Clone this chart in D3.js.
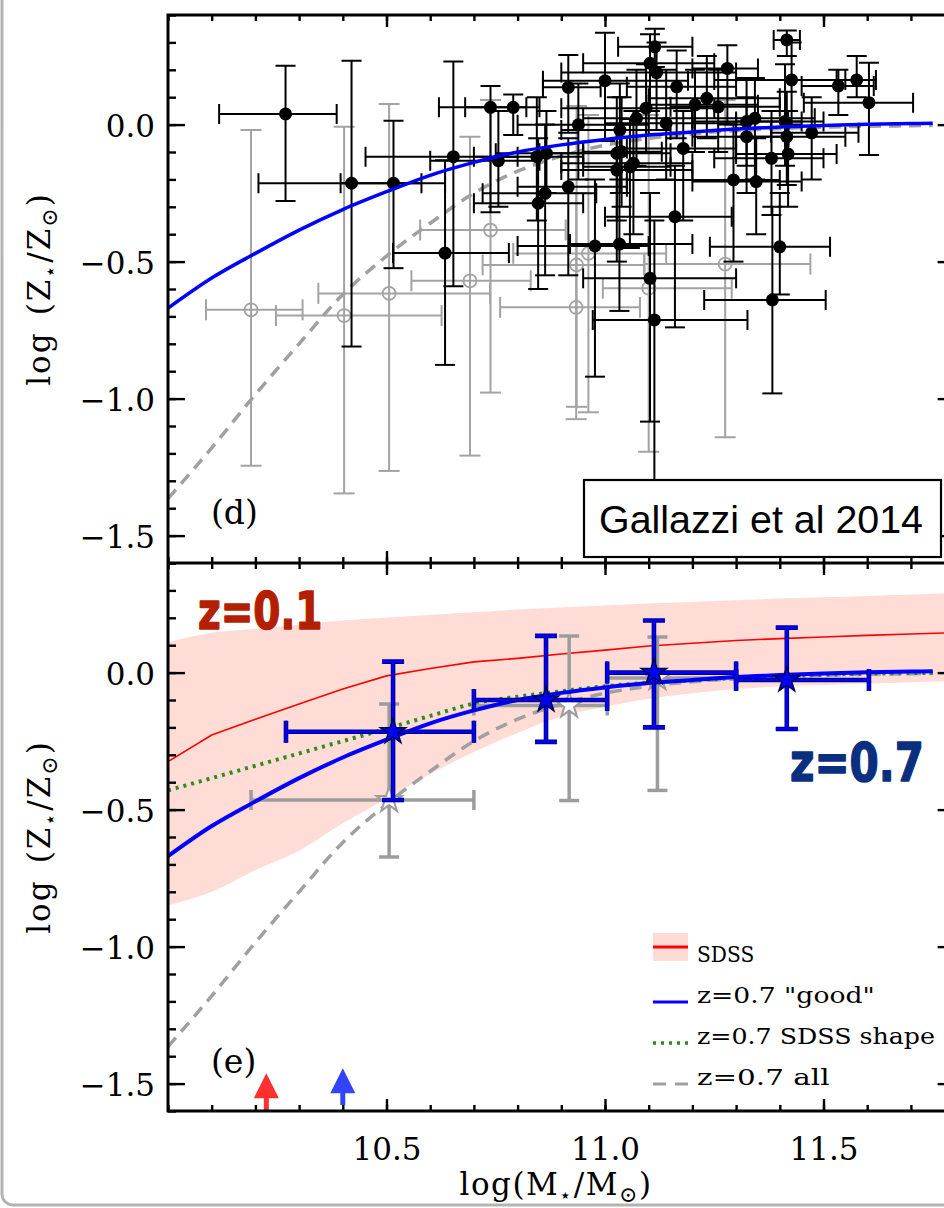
<!DOCTYPE html>
<html>
<head>
<meta charset="utf-8">
<script src="https://cdn.jsdelivr.net/npm/d3@7"></script>
<style>
  html, body { margin: 0; padding: 0; background: #fff; overflow: hidden; }
  svg { display: block; }
</style>
</head>
<body>
<svg id="fig" width="944" height="1208"></svg>
<script>
// ---------------------------------------------------------------------------
// Data: stellar mass–metallicity relation
// ---------------------------------------------------------------------------
const xTicks = [10.5, 11.0, 11.5];
const yTicks = [0.0, -0.5, -1.0, -1.5];

// SDSS (z=0.1) median relation and 16th/84th percentile envelope
const sdssMass   = [10.0, 10.1, 10.2, 10.3, 10.4, 10.5, 10.6, 10.7, 10.8, 10.9, 11.0, 11.1, 11.2, 11.3, 11.4, 11.5, 11.6, 11.7, 11.8];
const sdssMedian = [-0.325, -0.228, -0.17, -0.115, -0.06, -0.012, 0.015, 0.039, 0.052, 0.068, 0.082, 0.097, 0.107, 0.117, 0.124, 0.130, 0.136, 0.141, 0.146];
const sdssHigh   = [0.11, 0.145, 0.16, 0.175, 0.19, 0.20, 0.21, 0.22, 0.23, 0.238, 0.245, 0.252, 0.258, 0.264, 0.27, 0.275, 0.28, 0.285, 0.29];
const sdssLow    = [-0.85, -0.80, -0.72, -0.65, -0.55, -0.46, -0.37, -0.29, -0.22, -0.16, -0.125, -0.095, -0.075, -0.06, -0.05, -0.045, -0.04, -0.035, -0.03];

// z=0.7 fitted relations
const fitMass      = [10.0, 10.1, 10.2, 10.3, 10.4, 10.5, 10.6, 10.7, 10.8, 10.9, 11.0, 11.1, 11.2, 11.3, 11.4, 11.5, 11.6, 11.7, 11.75];
const fitGood      = [-0.67, -0.56, -0.47, -0.385, -0.31, -0.245, -0.185, -0.138, -0.10, -0.074, -0.054, -0.038, -0.027, -0.016, -0.009, -0.003, 0.001, 0.004, 0.005];
const fitAll       = [-1.365, -1.18, -0.985, -0.80, -0.62, -0.48, -0.36, -0.25, -0.17, -0.115, -0.075, -0.05, -0.033, -0.022, -0.014, -0.009, -0.006, -0.004, -0.003];
const fitSdssShape = [-0.43, -0.385, -0.34, -0.295, -0.25, -0.205, -0.158, -0.113, -0.088, -0.068, -0.05, -0.037, -0.028, -0.02, -0.013, -0.008, -0.004, -0.002, -0.001];

// Individual galaxies: [logM, logZ, logM_lo, logM_hi, logZ_lo, logZ_hi]
const galaxiesGood = [
  [10.269, 0.039, 10.117, 10.386, -0.279, 0.215],
  [10.420, -0.214, 10.207, 10.580, -0.810, 0.233],
  [10.516, -0.214, 10.395, 10.634, -0.524, 0.014],
  [10.653, -0.117, 10.452, 10.800, -0.590, 0.230],
  [10.634, -0.469, 10.515, 10.780, -0.877, -0.130],
  [10.738, 0.063, 10.620, 10.820, -0.320, 0.141],
  [10.790, 0.063, 10.680, 10.850, -0.038, 0.110],
  [10.916, 0.136, 10.858, 10.990, -0.030, 0.254],
  [11.000, 0.160, 10.858, 11.190, -0.060, 0.335],
  [11.114, 0.284, 11.030, 11.200, 0.210, 0.350],
  [11.103, 0.224, 10.950, 11.250, 0.050, 0.330],
  [11.118, 0.190, 10.900, 11.300, -0.020, 0.300],
  [11.164, 0.138, 11.050, 11.300, -0.050, 0.270],
  [11.280, 0.205, 11.200, 11.350, 0.000, 0.290],
  [11.416, 0.309, 11.386, 11.446, 0.250, 0.343],
  [11.427, 0.163, 11.250, 11.550, 0.000, 0.300],
  [11.534, 0.141, 11.450, 11.615, 0.035, 0.200],
  [11.576, 0.163, 11.530, 11.620, 0.100, 0.250],
  [11.604, 0.080, 11.455, 11.705, -0.111, 0.226],
  [10.939, -0.001, 10.800, 11.100, -0.200, 0.150],
  [11.072, 0.023, 10.950, 11.200, -0.150, 0.200],
  [11.094, 0.060, 10.900, 11.250, -0.100, 0.220],
  [11.140, 0.005, 11.000, 11.300, -0.200, 0.200],
  [11.206, 0.072, 11.100, 11.350, -0.100, 0.200],
  [11.233, 0.096, 11.100, 11.400, -0.050, 0.250],
  [11.259, 0.065, 11.150, 11.400, -0.100, 0.200],
  [11.324, 0.011, 11.200, 11.450, -0.150, 0.170],
  [11.343, 0.023, 11.200, 11.480, -0.200, 0.170],
  [11.412, 0.011, 11.300, 11.500, -0.150, 0.220],
  [11.416, -0.044, 11.300, 11.550, -0.220, 0.120],
  [11.473, -0.030, 11.380, 11.580, -0.200, 0.100],
  [11.324, -0.044, 11.200, 11.420, -0.250, 0.100],
  [11.419, -0.107, 11.300, 11.530, -0.300, 0.050],
  [11.381, -0.123, 11.250, 11.500, -0.330, 0.050],
  [11.294, -0.202, 11.050, 11.400, -0.500, 0.000],
  [11.346, -0.208, 11.200, 11.450, -0.400, -0.050],
  [11.179, -0.087, 11.050, 11.300, -0.350, 0.050],
  [11.160, -0.336, 11.000, 11.290, -0.740, -0.150],
  [11.400, -0.446, 11.240, 11.515, -0.620, -0.250],
  [11.383, -0.640, 11.227, 11.505, -0.981, -0.300],
  [11.034, -0.020, 10.900, 11.150, -0.250, 0.150],
  [11.027, -0.105, 10.850, 11.150, -0.350, 0.100],
  [11.038, -0.099, 10.950, 11.130, -0.300, 0.100],
  [11.065, -0.141, 10.900, 11.200, -0.400, 0.050],
  [11.027, -0.166, 10.900, 11.200, -0.500, 0.000],
  [11.057, -0.154, 10.950, 11.150, -0.450, 0.020],
  [10.916, -0.227, 10.800, 11.050, -0.550, -0.050],
  [10.863, -0.251, 10.720, 10.980, -0.550, 0.000],
  [10.847, -0.287, 10.700, 10.950, -0.600, -0.050],
  [10.977, -0.443, 10.800, 11.100, -0.920, -0.200],
  [11.033, -0.436, 10.920, 11.200, -0.680, -0.200],
  [11.103, -0.561, 10.950, 11.300, -1.084, -0.250],
  [10.756, -0.132, 10.600, 10.850, -0.300, 0.050],
  [10.844, -0.117, 10.700, 10.950, -0.350, 0.100],
  [10.866, -0.105, 10.750, 10.950, -0.250, 0.050],
  [11.113, -0.713, 10.972, 11.326, -1.297, -0.350]
];

const galaxiesPoor = [
  [10.190, -0.676, 10.087, 10.308, -1.245, -0.020],
  [10.403, -0.697, 10.247, 10.626, -1.346, -0.008],
  [10.506, -0.616, 10.344, 10.737, -1.264, 0.075],
  [10.691, -0.570, 10.557, 10.830, -1.208, -0.044],
  [10.738, -0.385, 10.577, 10.910, -0.978, 0.090],
  [10.935, -0.512, 10.720, 11.090, -1.030, 0.068],
  [10.962, -0.470, 10.790, 11.140, -1.050, 0.035],
  [11.100, -0.597, 10.995, 11.290, -1.194, 0.035],
  [11.275, -0.509, 11.090, 11.470, -1.141, 0.090],
  [10.934, -0.667, 10.760, 11.080, -1.075, -0.250]
];

// Mass-binned z=0.7 stacks: [logM, logZ, logM_lo, logM_hi, logZ_lo, logZ_hi]
const binsGood = [
  [10.515, -0.216, 10.27, 10.70, -0.465, 0.04],
  [10.865, -0.100, 10.70, 11.005, -0.253, 0.134],
  [11.112, 0.000, 11.005, 11.30, -0.200, 0.190],
  [11.416, -0.027, 11.30, 11.604, -0.206, 0.164]
];
const binsAll = [
  [10.506, -0.465, 10.19, 10.70, -0.673, -0.115],
  [10.918, -0.120, 10.70, 11.005, -0.467, 0.134],
  [11.120, -0.020, 11.005, 11.30, -0.430, 0.130]
];

// Mass completeness limits and the logZ level of each arrow tip
const massLimits = [10.225, 10.40];
const arrowTips = [-1.462, -1.444];

const legendLabels = ['SDSS', 'z=0.7 "good"', 'z=0.7 SDSS shape', 'z=0.7 all'];

// ---------------------------------------------------------------------------
// Layout
// ---------------------------------------------------------------------------
const svg = d3.select('#fig');
const X0 = 168, X1 = 954.6;
const panelTop = [15, 563];
const panelH = 548;

const x = d3.scaleLinear().domain([10.0, 11.8]).range([X0, X1]);
const yTop = d3.scaleLinear().domain([-1.6, 0.4]).range([panelTop[0] + panelH, panelTop[0]]);
const yBot = d3.scaleLinear().domain([-1.6, 0.4]).range([panelTop[1] + panelH, panelTop[1]]);

const serif = '"DejaVu Serif", "Liberation Serif", serif';

// outer rounded border
svg.append('rect')
  .attr('x', 2).attr('y', -30).attr('width', 1000).attr('height', 1235)
  .attr('rx', 11).attr('fill', 'none').attr('stroke', '#b3b3b3').attr('stroke-width', 3);

const defs = svg.append('defs');
[['clipTop', panelTop[0]], ['clipBot', panelTop[1]]].forEach(([id, t]) => {
  defs.append('clipPath').attr('id', id)
    .append('rect').attr('x', X0).attr('y', t).attr('width', X1 - X0).attr('height', panelH);
});

const lineOf = (xs, ys, y, curve) => d3.line()
  .x((d, i) => x(xs[i])).y((d, i) => y(ys[i])).curve(curve || d3.curveMonotoneX)(xs);

function errorBars(g, rows, y, stroke, width, cap) {
  const eg = g.append('g').attr('stroke', stroke).attr('stroke-width', width).attr('fill', 'none');
  rows.forEach(r => {
    const [m, z, mlo, mhi, zlo, zhi] = r;
    const cx = x(m), cy = y(z);
    eg.append('line').attr('x1', cx).attr('x2', cx).attr('y1', y(zlo)).attr('y2', y(zhi));
    eg.append('line').attr('x1', x(mlo)).attr('x2', x(mhi)).attr('y1', cy).attr('y2', cy);
    eg.append('line').attr('x1', cx - cap).attr('x2', cx + cap).attr('y1', y(zlo)).attr('y2', y(zlo));
    eg.append('line').attr('x1', cx - cap).attr('x2', cx + cap).attr('y1', y(zhi)).attr('y2', y(zhi));
    eg.append('line').attr('x1', x(mlo)).attr('x2', x(mlo)).attr('y1', cy - cap).attr('y2', cy + cap);
    eg.append('line').attr('x1', x(mhi)).attr('x2', x(mhi)).attr('y1', cy - cap).attr('y2', cy + cap);
  });
}

// ---------------------------------------------------------------------------
// Panel (d): individual galaxies
// ---------------------------------------------------------------------------
const gTop = svg.append('g').attr('clip-path', 'url(#clipTop)');

errorBars(gTop, galaxiesPoor, yTop, '#a3a3a3', 2, 10.5);
gTop.append('g').selectAll('circle').data(galaxiesPoor).join('circle')
  .attr('cx', d => x(d[0])).attr('cy', d => yTop(d[1])).attr('r', 6.5)
  .attr('fill', 'none').attr('stroke', '#a3a3a3').attr('stroke-width', 1.8);

gTop.append('path').attr('d', lineOf(fitMass, fitAll, yTop))
  .attr('fill', 'none').attr('stroke', '#a0a0a0').attr('stroke-width', 3.5)
  .attr('stroke-dasharray', '12,8');

errorBars(gTop, galaxiesGood, yTop, '#000', 2, 10);
gTop.append('g').selectAll('circle').data(galaxiesGood).join('circle')
  .attr('cx', d => x(d[0])).attr('cy', d => yTop(d[1])).attr('r', 6.5).attr('fill', '#000');

gTop.append('path').attr('d', lineOf(fitMass, fitGood, yTop))
  .attr('fill', 'none').attr('stroke', '#0000ff').attr('stroke-width', 3.5);

// ---------------------------------------------------------------------------
// Panel (e): binned relations
// ---------------------------------------------------------------------------
const gBot = svg.append('g').attr('clip-path', 'url(#clipBot)');

gBot.append('path')
  .attr('d', d3.area()
    .x((d, i) => x(sdssMass[i]))
    .y0((d, i) => yBot(sdssLow[i]))
    .y1((d, i) => yBot(sdssHigh[i]))
    .curve(d3.curveMonotoneX)(sdssMass))
  .attr('fill', '#ffdcd5');

gBot.append('path').attr('d', lineOf(sdssMass, sdssMedian, yBot, d3.curveLinear))
  .attr('fill', 'none').attr('stroke', '#ff0000').attr('stroke-width', 1.6);

gBot.append('path').attr('d', lineOf(fitMass, fitAll, yBot))
  .attr('fill', 'none').attr('stroke', '#a0a0a0').attr('stroke-width', 3.5)
  .attr('stroke-dasharray', '12,8');

gBot.append('path').attr('d', lineOf(fitMass, fitSdssShape, yBot))
  .attr('fill', 'none').attr('stroke', '#2e8b1e').attr('stroke-width', 4)
  .attr('stroke-dasharray', '3,5');

const star = d3.symbol().type(d3.symbolStar).size(200);

errorBars(gBot, binsAll, yBot, '#9c9c9c', 3.5, 10);
gBot.append('g').selectAll('path').data(binsAll).join('path')
  .attr('d', star).attr('transform', d => `translate(${x(d[0])},${yBot(d[1])})`)
  .attr('fill', '#fff').attr('stroke', '#9c9c9c').attr('stroke-width', 2);

gBot.append('path').attr('d', lineOf(fitMass, fitGood, yBot))
  .attr('fill', 'none').attr('stroke', '#0000ff').attr('stroke-width', 4);

errorBars(gBot, binsGood, yBot, '#00007a', 4.6, 11);
errorBars(gBot, binsGood, yBot, '#0000ff', 2.6, 11);
gBot.append('g').selectAll('path').data(binsGood).join('path')
  .attr('d', star).attr('transform', d => `translate(${x(d[0])},${yBot(d[1])})`)
  .attr('fill', '#0000ff').attr('stroke', '#000050').attr('stroke-width', 1.5);

// mass completeness arrows
const arrowColors = ['#ff3030', '#3344ff'];
massLimits.forEach((m, i) => {
  const cx = x(m);
  const tip = yBot(arrowTips[i]);
  const base = tip + 25;
  const foot = i === 0 ? yBot(-1.6) - 1 : yBot(-1.6) - 6;
  svg.append('path')
    .attr('d', `M${cx - 12.5},${base} L${cx},${tip} L${cx + 12.5},${base} L${cx + 2.5},${base} L${cx + 2.5},${foot} L${cx - 2.5},${foot} L${cx - 2.5},${base} Z`)
    .attr('fill', arrowColors[i]);
});

// ---------------------------------------------------------------------------
// Axes
// ---------------------------------------------------------------------------
const minorX = d3.range(100, 119).map(d => d / 10);
const minorY = d3.range(-16, 5).map(d => d / 10);

function styleAxis(sel) {
  sel.select('.domain').remove();
  sel.selectAll('line').attr('stroke', '#000').attr('stroke-width', 2.4);
  sel.attr('font-family', serif).attr('font-size', 31);
  sel.selectAll('text').attr('fill', '#000');
}

[[yTop, 0], [yBot, 1]].forEach(([y, k]) => {
  const top = panelTop[k], bottom = panelTop[k] + panelH;
  // left
  svg.append('g').attr('transform', `translate(${X0},0)`)
    .call(d3.axisLeft(y).tickValues(minorY).tickSize(-8).tickFormat(''))
    .call(styleAxis);
  svg.append('g').attr('transform', `translate(${X0},0)`)
    .call(d3.axisLeft(y).tickValues(yTicks).tickSize(-17).tickPadding(13).tickFormat(d3.format('.1f')))
    .call(styleAxis)
    .call(g => g.selectAll('text').attr('dy', '0.39em'));
  // right
  svg.append('g').attr('transform', `translate(${X1},0)`)
    .call(d3.axisRight(y).tickValues(minorY).tickSize(-8).tickFormat(''))
    .call(styleAxis);
  svg.append('g').attr('transform', `translate(${X1},0)`)
    .call(d3.axisRight(y).tickValues(yTicks).tickSize(-17).tickFormat(''))
    .call(styleAxis);
  // top
  svg.append('g').attr('transform', `translate(0,${top})`)
    .call(d3.axisTop(x).tickValues(minorX).tickSize(-6).tickFormat(''))
    .call(styleAxis);
  svg.append('g').attr('transform', `translate(0,${top})`)
    .call(d3.axisTop(x).tickValues(xTicks).tickSize(-12).tickFormat(''))
    .call(styleAxis);
  // bottom
  svg.append('g').attr('transform', `translate(0,${bottom})`)
    .call(d3.axisBottom(x).tickValues(minorX).tickSize(-6).tickFormat(''))
    .call(styleAxis);
  svg.append('g').attr('transform', `translate(0,${bottom})`)
    .call(d3.axisBottom(x).tickValues(xTicks).tickSize(-12).tickPadding(27)
      .tickFormat(k === 1 ? d3.format('.1f') : ''))
    .call(styleAxis);
});

// frame
svg.append('rect')
  .attr('x', X0).attr('y', panelTop[0]).attr('width', X1 - X0).attr('height', 2 * panelH)
  .attr('fill', 'none').attr('stroke', '#000').attr('stroke-width', 3);
svg.append('line')
  .attr('x1', X0).attr('x2', X1).attr('y1', panelTop[1]).attr('y2', panelTop[1])
  .attr('stroke', '#000').attr('stroke-width', 3);

// axis titles
function yTitle(cy) {
  const t = svg.append('text')
    .attr('transform', `translate(50,${cy}) rotate(-90)`)
    .attr('text-anchor', 'middle').attr('font-family', serif).attr('font-size', 31)
    .attr('letter-spacing', 2).attr('fill', '#000');
  t.append('tspan').text('log');
  t.append('tspan').attr('dx', 16).text('(Z');
  t.append('tspan').attr('font-size', 20).attr('dy', 7).text('\u22C6');
  t.append('tspan').attr('dy', -7).text('/Z');
  t.append('tspan').attr('font-size', 22).attr('dy', 7).text('\u2299');
  t.append('tspan').attr('dy', -7).text(')');
}
yTitle(panelTop[0] + panelH / 2);
yTitle(panelTop[1] + panelH / 2);

const xt = svg.append('text')
  .attr('x', 556).attr('y', 1195).attr('text-anchor', 'middle')
  .attr('font-family', serif).attr('font-size', 31).attr('letter-spacing', 1.5).attr('fill', '#000');
xt.append('tspan').text('log(M');
xt.append('tspan').attr('font-size', 20).attr('dy', 7).text('\u22C6');
xt.append('tspan').attr('dy', -7).text('/M');
xt.append('tspan').attr('font-size', 22).attr('dy', 7).text('\u2299');
xt.append('tspan').attr('dy', -7).text(')');

// panel tags
svg.append('text').attr('x', 211).attr('y', 524)
  .attr('font-family', serif).attr('font-size', 33).text('(d)');
svg.append('text').attr('x', 211).attr('y', 1073)
  .attr('font-family', serif).attr('font-size', 33).text('(e)');

// reference box
svg.append('rect').attr('x', 584).attr('y', 480).attr('width', 357).attr('height', 77)
  .attr('fill', '#fff').attr('stroke', '#000').attr('stroke-width', 2.2);
svg.append('text').attr('x', 599).attr('y', 533)
  .attr('font-family', '"Liberation Sans", Arial, sans-serif').attr('font-size', 38)
  .attr('textLength', 324).attr('lengthAdjust', 'spacingAndGlyphs')
  .text('Gallazzi et al 2014');

// redshift labels (stretched vertically for the tall rounded look)
svg.append('text').attr('transform', 'translate(198,629) scale(1,1.3)')
  .attr('font-family', '"DejaVu Sans", sans-serif').attr('font-weight', 'bold').attr('font-size', 39)
  .attr('fill', '#b31f00').attr('stroke', '#b31f00').attr('stroke-width', 1.2).attr('stroke-linejoin', 'round')
  .text('z=0.1');
svg.append('text').attr('transform', 'translate(790,781) scale(1,1.25)')
  .attr('font-family', '"DejaVu Sans", sans-serif').attr('font-weight', 'bold').attr('font-size', 42)
  .attr('fill', '#0a2f7f').attr('stroke', '#0a2f7f').attr('stroke-width', 1.2).attr('stroke-linejoin', 'round')
  .text('z=0.7');

// legend
const legX = 653, legW = 35, legTextX = 697, legCharW = 15.06;
const legBase = [962, 1003, 1044, 1085];
const lg = svg.append('g');
lg.append('rect').attr('x', legX).attr('y', legBase[0] - 29).attr('width', legW).attr('height', 28).attr('fill', '#ffdcd5');
lg.append('line').attr('x1', legX).attr('x2', legX + legW).attr('y1', legBase[0] - 15).attr('y2', legBase[0] - 15)
  .attr('stroke', '#ff0000').attr('stroke-width', 3);
lg.append('line').attr('x1', legX).attr('x2', legX + legW).attr('y1', legBase[1] - 1).attr('y2', legBase[1] - 1)
  .attr('stroke', '#0000ff').attr('stroke-width', 3);
lg.append('line').attr('x1', legX).attr('x2', legX + legW).attr('y1', legBase[2] - 1).attr('y2', legBase[2] - 1)
  .attr('stroke', '#2e8b1e').attr('stroke-width', 3.5).attr('stroke-dasharray', '3,5');
lg.append('line').attr('x1', legX).attr('x2', legX + legW).attr('y1', legBase[3] - 1).attr('y2', legBase[3] - 1)
  .attr('stroke', '#a0a0a0').attr('stroke-width', 3).attr('stroke-dasharray', '13,9');
lg.selectAll('text').data(legendLabels).join('text')
  .attr('x', legTextX).attr('y', (d, i) => legBase[i])
  .attr('font-family', serif).attr('font-size', 23).attr('fill', '#000')
  .attr('textLength', d => d.length * legCharW - 3).attr('lengthAdjust', 'spacingAndGlyphs')
  .text(d => d);
</script>
</body>
</html>
